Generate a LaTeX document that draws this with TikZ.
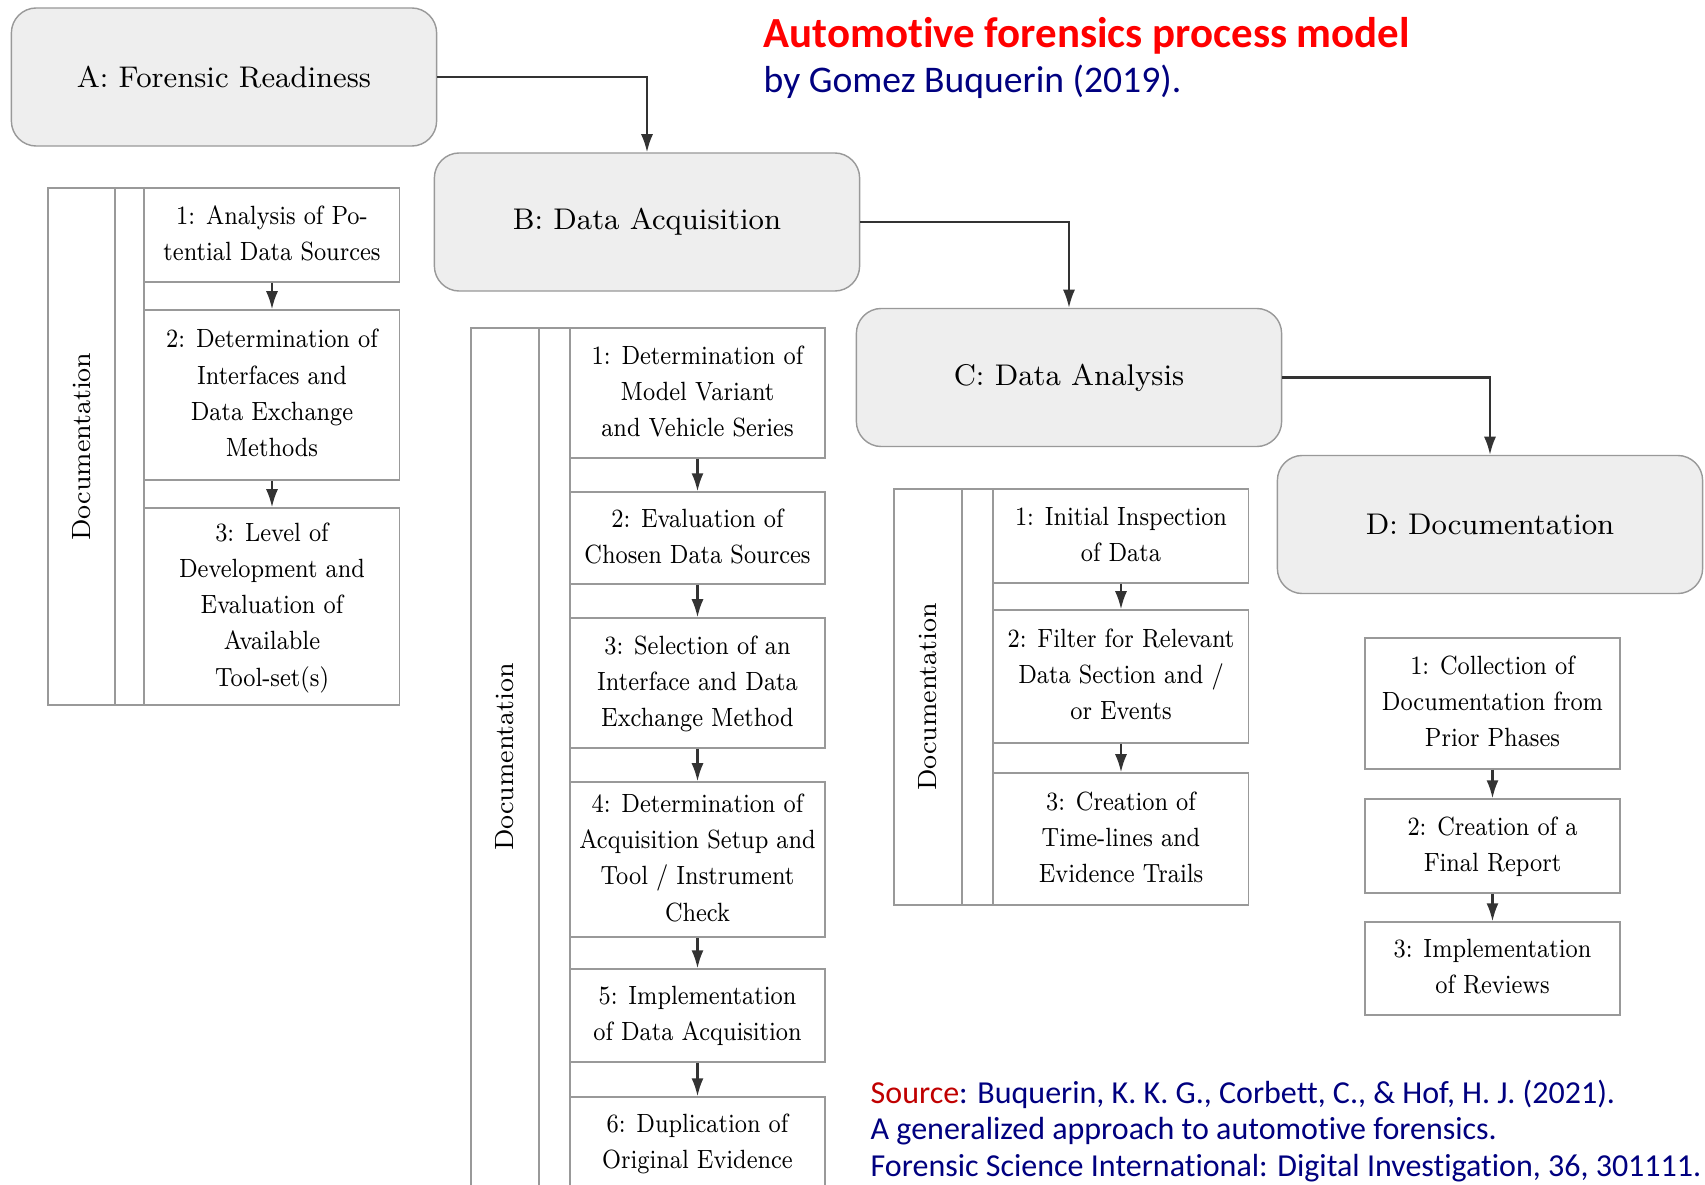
\documentclass[tikz,border=0pt]{standalone}
\usepackage{fontspec}
\usepackage{graphicx}
\newfontfamily\calibri[Ligatures=NoCommon]{Carlito}
\usetikzlibrary{arrows.meta}
\definecolor{phasefill}{HTML}{EEEEEE}
\definecolor{boxline}{HTML}{999999}
\definecolor{titlered}{HTML}{FF0000}
\definecolor{navyblue}{HTML}{000080}
\definecolor{srcred}{HTML}{C00000}
% narrow step text
\newcommand{\steptext}[1]{\scalebox{0.87}[1]{\begin{tabular}{@{}c@{}}#1\end{tabular}}}
\tikzset{
  phase/.style={draw=boxline, fill=phasefill, rounded corners=0.25cm,
    minimum width=4.25cm, minimum height=1.38cm, font=\fontsize{8.5}{10}\selectfont},
  stepbox/.style={draw=boxline, fill=white, align=center, inner sep=0pt,
    minimum width=2.55cm, font=\fontsize{7.5}{10.3}\selectfont},
  doclabel/.style={rotate=90, font=\fontsize{7.5}{10.3}\selectfont},
  panel/.style={draw=boxline},
  flow/.style={-{Latex[length=1.8mm,width=1.2mm]}, draw=black!80, semithick}
}
\begin{document}
\begin{tikzpicture}[x=0.01cm, y=-0.01cm]
  \clip (0,0) rectangle (1705,1185);
  \fill[white] (0,0) rectangle (1705,1185);
  % phases
  \node[phase] (A) at (224,77) {A: Forensic Readiness};
  \node[phase] (B) at (647,222) {B: Data Acquisition};
  \node[phase] (C) at (1069,377.5) {C: Data Analysis};
  \node[phase] (D) at (1490,524.5) {D: Documentation};
  \draw[flow] (A.east) -| (B.north);
  \draw[flow] (B.east) -| (C.north);
  \draw[flow] (C.east) -| (D.north);
  % panel A
  \draw[panel] (48,188) rectangle (144,705);
  \draw[panel] (115,188) -- (115,705);
  \node[doclabel] (docA) at (81.5,446.5) {Documentation};
  \node[stepbox, minimum height=0.94cm] (a1) at (272,235) {\steptext{1: Analysis of Po-\\tential Data Sources}};
  \node[stepbox, minimum height=1.70cm] (a2) at (272,395) {\steptext{2: Determination of\\Interfaces and\\Data Exchange\\Methods}};
  \node[stepbox, minimum height=1.97cm] (a3) at (272,606.5) {\steptext{3: Level of\\Development and\\Evaluation of\\Available\\Tool-set(s)}};
  % panel B
  \draw[panel] (471,328) rectangle (570,1200);
  \draw[panel] (539,328) -- (539,1200);
  \node[doclabel] (docB) at (505,757) {Documentation};
  \node[stepbox, minimum height=1.30cm] (b1) at (697.5,393) {\steptext{1: Determination of\\Model Variant\\and Vehicle Series}};
  \node[stepbox, minimum height=0.92cm] (b2) at (697.5,538) {\steptext{2: Evaluation of\\Chosen Data Sources}};
  \node[stepbox, minimum height=1.30cm] (b3) at (697.5,683) {\steptext{3: Selection of an\\Interface and Data\\Exchange Method}};
  \node[stepbox, minimum height=1.55cm] (b4) at (697.5,859.5) {\steptext{4: Determination of\\Acquisition Setup and\\Tool / Instrument\\Check}};
  \node[stepbox, minimum height=0.93cm] (b5) at (697.5,1015.5) {\steptext{5: Implementation\\of Data Acquisition}};
  \node[stepbox, minimum height=0.93cm] (b6) at (697.5,1143.5) {\steptext{6: Duplication of\\Original Evidence}};
  % panel C
  \draw[panel] (894,489) rectangle (993,905);
  \draw[panel] (962,489) -- (962,905);
  \node[doclabel] (docC) at (928,697) {Documentation};
  \node[stepbox, minimum height=0.94cm] (c1) at (1121,536) {\steptext{1: Initial Inspection\\of Data}};
  \node[stepbox, minimum height=1.33cm] (c2) at (1121,676.5) {\steptext{2: Filter for Relevant\\Data Section and /\\or Events}};
  \node[stepbox, minimum height=1.32cm] (c3) at (1121,839) {\steptext{3: Creation of\\Time-lines and\\Evidence Trails}};
  % steps D
  \node[stepbox, minimum height=1.31cm] (d1) at (1492.5,703.5) {\steptext{1: Collection of\\Documentation from\\Prior Phases}};
  \node[stepbox, minimum height=0.94cm] (d2) at (1492.5,846) {\steptext{2: Creation of a\\Final Report}};
  \node[stepbox, minimum height=0.93cm] (d3) at (1492.5,968.5) {\steptext{3: Implementation\\of Reviews}};
  \foreach \u/\v in {a1/a2,a2/a3,b1/b2,b2/b3,b3/b4,b4/b5,b5/b6,c1/c2,c2/c3,d1/d2,d2/d3}
    \draw[flow] (\u.south) -- (\v.north);
  % title and source
  \node[anchor=west, inner sep=0pt, text=titlered,
    font=\calibri\fontsize{12.2}{14}\selectfont\bfseries] (title) at (763,36) {Automotive forensics process model};
  \node[anchor=west, inner sep=0pt, text=navyblue,
    font=\calibri\fontsize{10.7}{12}\selectfont] (byline) at (763,82) {by Gomez Buquerin (2019).};
  \node[anchor=west, align=left, inner sep=0pt, text=navyblue,
    font=\calibri\fontsize{9.1}{10.3}\selectfont] (source) at (870,1131)
    {\textcolor{srcred}{Source}: Buquerin, K. K. G., Corbett, C., \& Hof, H. J. (2021).\\
     A generalized approach to automotive forensics.\\
     Forensic Science International: Digital Investigation, 36, 301111.};
\end{tikzpicture}
\end{document}
